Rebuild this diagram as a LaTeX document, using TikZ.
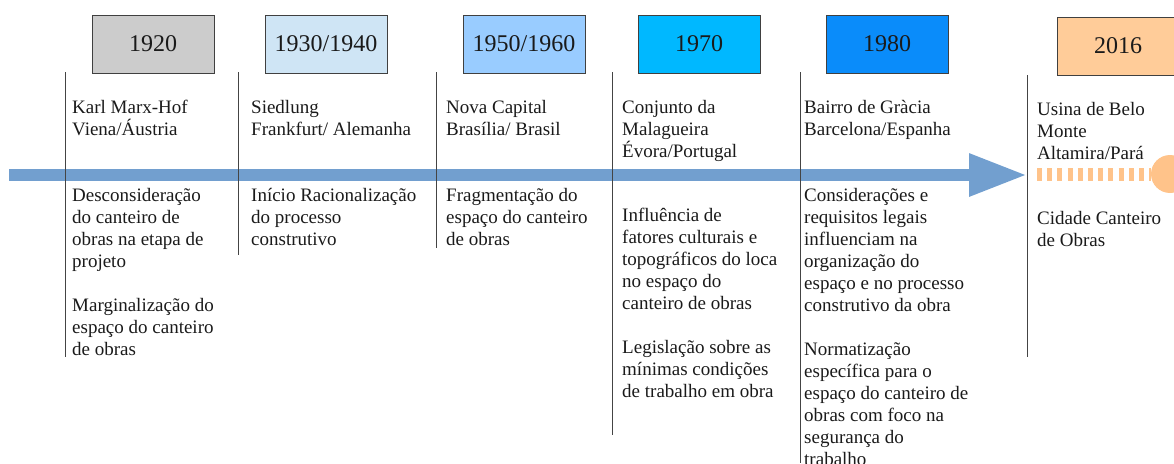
\documentclass[tikz,border=0pt]{standalone}
\usepackage{fontspec}
\setmainfont{Liberation Serif}
\usetikzlibrary{arrows.meta, positioning}

\definecolor{txt}{HTML}{1A1A1A}
\definecolor{tick}{HTML}{444444}
\definecolor{axis}{HTML}{729FCF}
\definecolor{future}{HTML}{FFC38A}
\definecolor{c1920}{HTML}{CCCCCC}
\definecolor{c1930}{HTML}{CFE5F5}
\definecolor{c1950}{HTML}{99CCFF}
\definecolor{c1970}{HTML}{00B8FF}
\definecolor{c1980}{HTML}{0A8CFA}
\definecolor{c2016}{HTML}{FFCC99}

\begin{document}
\begin{tikzpicture}[
  x=1pt, y=-1pt,
  yearbox/.style={draw=black!75, line width=0.8pt, minimum width=122pt, minimum height=58pt, inner sep=0pt, text=txt, font=\fontsize{24}{28}\selectfont},
  note/.style={anchor=north west, align=left, inner sep=0pt, text=txt, font=\fontsize{19}{22}\selectfont, execute at begin node={\rule{0pt}{16pt}}},
  tickline/.style={draw=tick, line width=0.8pt}
]
  \clip (0,0) rectangle (1174,463);

  % time axis
  \coordinate (axstart) at (9,175);
  \coordinate (axend) at (1027,175);
  \draw[axis, line width=12pt, -{Triangle[length=58pt, width=40pt]}] (axstart) -- (axend);

  % after the axis: dashed part and dot
  \coordinate (fstart) at (1037,174);
  \node[circle, fill=future, minimum size=38pt, inner sep=0pt] (dot) at (1170,174) {};
  \draw[future, line width=13pt, dash pattern=on 5pt off 5.2pt] (fstart) -- (dot.west);

  % year boxes
  \node[yearbox, fill=c1920] (y1920) at (153,44) {1920};
  \node[yearbox, fill=c1930] (y1930) at (326,44) {1930/1940};
  \node[yearbox, fill=c1950] (y1950) at (524,44) {1950/1960};
  \node[yearbox, fill=c1970] (y1970) at (699,44) {1970};
  \node[yearbox, fill=c1980] (y1980) at (887,44) {1980};
  \node[yearbox, fill=c2016] (y2016) at (1118,46) {2016};

  % ticks
  \coordinate (t1a) at (65,72);   \coordinate (t1b) at (65,357);
  \coordinate (t2a) at (238,72);  \coordinate (t2b) at (238,255);
  \coordinate (t3a) at (436,72);  \coordinate (t3b) at (436,248);
  \coordinate (t4a) at (612,72);  \coordinate (t4b) at (612,435);
  \coordinate (t5a) at (800,72);  \coordinate (t5b) at (800,463);
  \coordinate (t6a) at (1027,75); \coordinate (t6b) at (1027,357);
  \foreach \i in {1,...,6}
    \draw[tickline] (t\i a) -- (t\i b);

  % places (top = first baseline - 16)
  \node[note] (p1920) at (72,100) {Karl Marx-Hof\\Viena/Áustria};
  \node[note] (p1930) at (251,100) {Siedlung\\Frankfurt/ Alemanha};
  \node[note] (p1950) at (446,100) {Nova Capital\\Brasília/ Brasil};
  \node[note] (p1970) at (622,100) {Conjunto da\\Malagueira\\Évora/Portugal};
  \node[note] (p1980) at (804,100) {Bairro de Gràcia\\Barcelona/Espanha};
  \node[note] (p2016) at (1037,102) {Usina de Belo\\Monte\\Altamira/Pará};

  % facts
  \node[note] (f1920) at (72,188) {Desconsideração\\do canteiro de\\obras na etapa de\\projeto\\[22pt]Marginalização do\\espaço do canteiro\\de obras};
  \node[note] (f1930) at (251,188) {Início Racionalização\\do processo\\construtivo};
  \node[note] (f1950) at (446,188) {Fragmentação do\\espaço do canteiro\\de obras};
  \node[note] (f1970) at (622,208) {Influência de\\fatores culturais e\\topográficos do loca\\no espaço do\\canteiro de obras\\[22pt]Legislação sobre as\\mínimas condições\\de trabalho em obra};
  \node[note] (f1980) at (804,188) {Considerações e\\requisitos legais\\influenciam na\\organização do\\espaço e no processo\\construtivo da obra\\[22pt]Normatização\\específica para o\\espaço do canteiro de\\obras com foco na\\segurança do\\trabalho};
  \node[note] (f2016) at (1037,211) {Cidade Canteiro\\de Obras};
\end{tikzpicture}
\end{document}
